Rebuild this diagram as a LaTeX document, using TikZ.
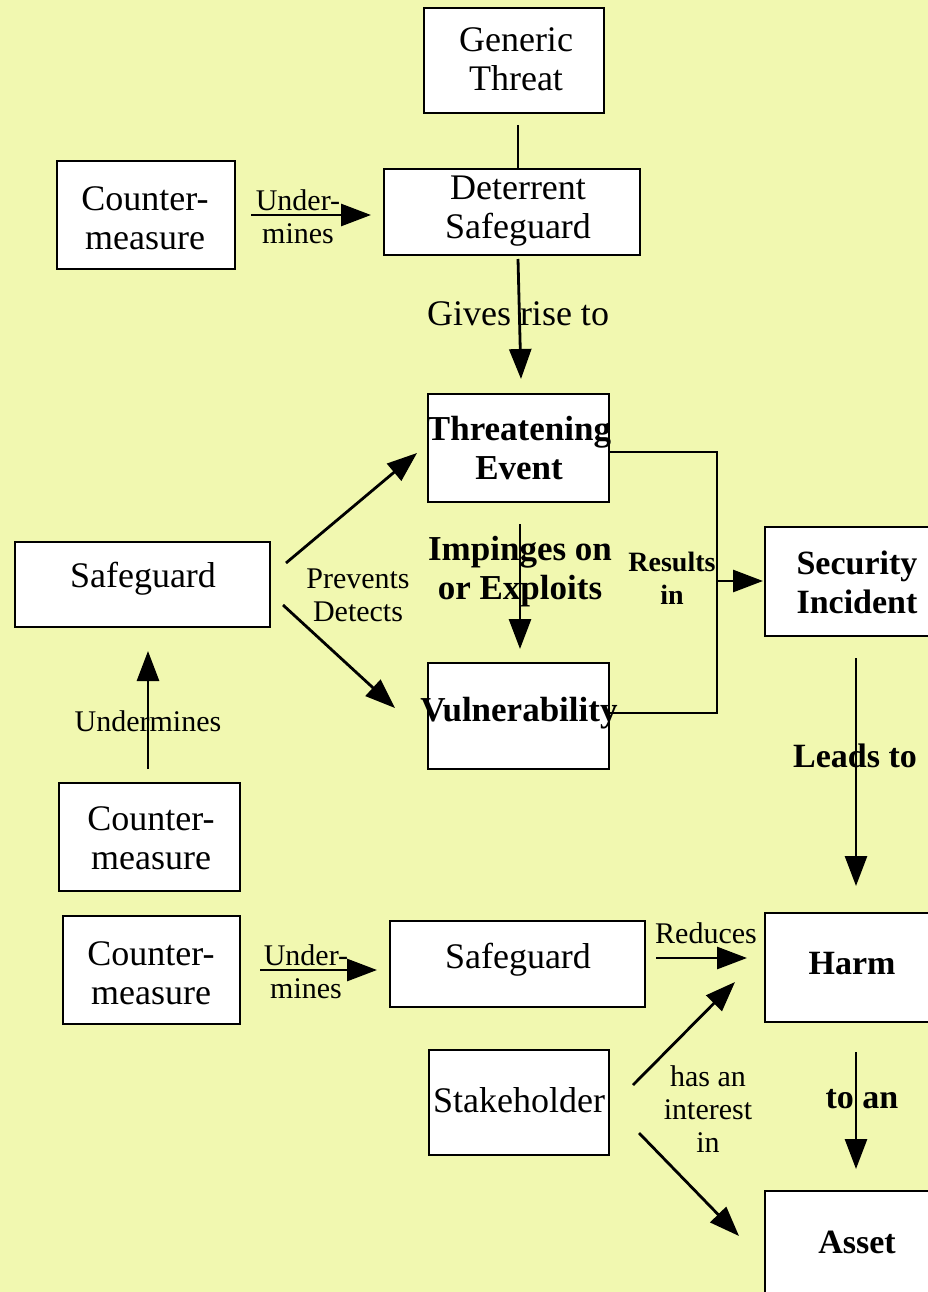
\documentclass[tikz,border=0pt]{standalone}
\usepackage{fontspec}
\setmainfont{Liberation Serif}
\usetikzlibrary{arrows.meta}
\definecolor{bgyellow}{RGB}{241,248,176}
\tikzset{
  box/.style={draw=black, fill=white, line width=2pt, inner sep=0pt},
  txt/.style={inner sep=0pt, align=center, font=\fontsize{36}{39}\selectfont},
  btxt/.style={inner sep=0pt, align=center, font=\fontsize{34}{39}\selectfont\bfseries},
  bigblbl/.style={inner sep=0pt, align=center, font=\fontsize{35}{39}\selectfont\bfseries},
  lbl/.style={inner sep=0pt, align=center, font=\fontsize{30}{33}\selectfont},
  blbl/.style={inner sep=0pt, align=center, font=\fontsize{28}{33}\selectfont\bfseries},
  conn/.style={line width=2.6pt},
  arr/.style={line width=2.8pt, -{Triangle[length=30pt,width=22pt]}},
}
\begin{document}
\begin{tikzpicture}[x=1pt,y=-1pt]
\useasboundingbox (0,0) rectangle (928,1292);
\clip (0,0) rectangle (928,1292);
\fill[bgyellow] (0,0) rectangle (928,1292);

% boxes
\node[box, minimum width=180pt, minimum height=105pt] (gt) at (514,60.5) {};
\node[box, minimum width=178pt, minimum height=108pt] (cm1) at (146,215) {};
\node[box, minimum width=256pt, minimum height=86pt] (ds) at (512,212) {};
\node[box, minimum width=181pt, minimum height=108pt] (te) at (518.5,448) {};
\node[box, minimum width=255pt, minimum height=85pt] (sg1) at (142.5,584.5) {};
\node[box, minimum width=181pt, minimum height=106pt] (vu) at (518.5,716) {};
\node[box, minimum width=170pt, minimum height=109pt] (si) at (850,581.5) {};
\node[box, minimum width=181pt, minimum height=108pt] (cm2) at (149.5,837) {};
\node[box, minimum width=177pt, minimum height=108pt] (cm3) at (151.5,970) {};
\node[box, minimum width=255pt, minimum height=86pt] (sg2) at (517.5,964) {};
\node[box, minimum width=180pt, minimum height=105pt] (sh) at (519,1102.5) {};
\node[box, minimum width=170pt, minimum height=109pt] (harm) at (850,967.5) {};
\node[box, minimum width=170pt, minimum height=109pt] (asset) at (850,1245.5) {};

% box texts
\node[txt] (gtt) at (516,59) {Generic\\Threat};
\node[txt] (cm1t) at (145,218) {Counter-\\measure};
\node[txt] (dst) at (518,211) {Deterrent\\Safeguard};
\node[bigblbl] (tet) at (519,448) {Threatening\\Event};
\node[txt] (sg1t) at (143,579) {Safeguard};
\node[bigblbl] (vut) at (519,713) {Vulnerability};
\node[btxt] (sit) at (857,582) {Security\\Incident};
\node[txt] (cm2t) at (151,838) {Counter-\\measure};
\node[txt] (cm3t) at (151,973) {Counter-\\measure};
\node[txt] (sg2t) at (518,960) {Safeguard};
\node[txt] (sht) at (519,1100) {Stakeholder};
\node[btxt] (harmt) at (852,964) {Harm};
\node[btxt] (assett) at (857,1242) {Asset};

% connectors
\draw[conn] ([xshift=4pt,yshift=-11pt]gt.south) -- ([xshift=6pt]ds.north);
\draw[arr] ([xshift=15pt]cm1.east) -- ([xshift=-12pt,yshift=-3pt]ds.west);
\draw[arr] ([xshift=6pt,yshift=-3pt]ds.south) -- ([xshift=2.5pt,yshift=14pt]te.north);
\draw[arr] ([xshift=15pt,yshift=21.5pt]sg1.east) -- ([xshift=-10pt,yshift=-5pt]te.west);
\draw[arr] ([xshift=12pt,yshift=-20.5pt]sg1.east) -- ([xshift=-32pt,yshift=8pt]vu.west);
\draw[arr] ([xshift=1.5pt,yshift=-21pt]te.south) -- ([xshift=1.5pt,yshift=13pt]vu.north);
\coordinate (rj) at (717,581);
\draw[conn] ([yshift=-4pt]te.east) -| (rj) |- ([yshift=3pt]vu.east);
\draw[arr] (rj) -- ([xshift=-1pt]si.west |- rj);
\draw[arr] ([xshift=6pt,yshift=-21pt]si.south) -- ([xshift=6pt,yshift=26pt]harm.north);
\draw[arr] ([xshift=6pt,yshift=-29pt]harm.south) -- ([xshift=6pt,yshift=21pt]asset.north);
\draw[arr] ([xshift=-1.5pt,yshift=13pt]cm2.north) -- ([xshift=5.5pt,yshift=-23pt]sg1.south);
\draw[arr] ([xshift=19pt]cm3.east) -- ([xshift=-12pt,yshift=-6pt]sg2.west);
\draw[arr] ([xshift=10pt,yshift=6pt]sg2.east) -- ([xshift=-17pt,yshift=9.5pt]harm.west);
\draw[arr] ([xshift=23pt,yshift=17.5pt]sh.east) -- ([xshift=-29pt,yshift=-14.5pt]harm.west);
\draw[arr] ([xshift=29pt,yshift=-30.5pt]sh.east) -- ([xshift=-25pt,yshift=9.5pt]asset.west);

% connector labels
\node[lbl] (l1) at (298,217) {Under-\\mines};
\node[txt] (l2) at (518,314) {Gives rise to};
\node[lbl] (l3) at (358,595) {Prevents\\Detects};
\node[bigblbl] (l4) at (520,572) {Impinges on\\or Exploits};
\node[blbl] (l5) at (672,578) {Results\\in};
\node[btxt] (l6) at (855,756) {Leads to};
\node[btxt] (l7) at (862,1099) {to an};
\node[lbl] (l8) at (148,721) {Undermines};
\node[lbl] (l9) at (306,972) {Under-\\mines};
\node[lbl] (l10) at (706,933) {Reduces};
\node[lbl] (l11) at (708,1109) {has an\\interest\\in};
\end{tikzpicture}
\end{document}
